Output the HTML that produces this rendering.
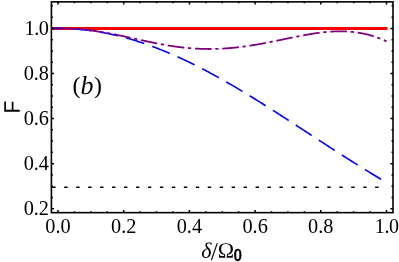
<!DOCTYPE html>
<html><head><meta charset="utf-8"><title>plot</title>
<style>html,body{margin:0;padding:0;background:#fff}svg{display:block}</style>
</head><body>
<svg width="399" height="262" viewBox="0 0 399 262">
<rect width="399" height="262" fill="#fff"/>
<path d="M51.40,28.50 H387.50" stroke="#ff0000" stroke-width="2.8" fill="none"/>
<path d="M51.40,28.49 L52.24,28.47 L53.08,28.45 L53.91,28.43 L54.75,28.42 L55.59,28.41 L56.43,28.41 L57.26,28.40 L58.10,28.40 L58.94,28.40 L59.78,28.41 L60.62,28.41 L61.45,28.42 L62.29,28.44 L63.13,28.45 L63.97,28.47 L64.80,28.50 L65.64,28.52 L66.48,28.55 L67.32,28.58 L68.16,28.62 L68.99,28.65 L69.83,28.69 L70.67,28.74 L71.51,28.78 L72.34,28.83 L73.18,28.88 L74.02,28.94 L74.86,28.99 L75.69,29.05 L76.53,29.12 L77.37,29.18 L78.21,29.25 L79.05,29.32 L79.88,29.40 L80.72,29.48 L81.56,29.56 L82.40,29.64 L83.23,29.73 L84.07,29.82 L84.91,29.91 L85.75,30.00 L86.59,30.10 L87.42,30.20 L88.26,30.31 L89.10,30.41 L89.94,30.52 L90.77,30.64 L91.61,30.75 L92.45,30.87 L93.29,30.99 L94.13,31.11 L94.96,31.24 L95.80,31.37 L96.64,31.50 L97.48,31.64 L98.31,31.78 L99.15,31.92 L99.99,32.06 L100.83,32.21 L101.66,32.36 L102.50,32.51 L103.34,32.66 L104.18,32.82 L105.02,32.98 L105.85,33.14 L106.69,33.31 L107.53,33.48 L108.37,33.65 L109.20,33.83 L110.04,34.00 L110.88,34.18 L111.72,34.37 L112.56,34.55 L113.39,34.74 L114.23,34.93 L115.07,35.12 L115.91,35.32 L116.74,35.52 L117.58,35.72 L118.42,35.93 L119.26,36.13 L120.10,36.34 L120.93,36.56 L121.77,36.77 L122.61,36.99 L123.45,37.21 L124.28,37.44 L125.12,37.66 L125.96,37.89 L126.80,38.12 L127.64,38.36 L128.47,38.59 L129.31,38.83 L130.15,39.07 L130.99,39.32 L131.82,39.57 L132.66,39.82 L133.50,40.07 L134.34,40.32 L135.18,40.58 L136.01,40.84 L136.85,41.10 L137.69,41.37 L138.53,41.64 L139.36,41.91 L140.20,42.18 L141.04,42.45 L141.88,42.73 L142.71,43.01 L143.55,43.30 L144.39,43.58 L145.23,43.87 L146.07,44.16 L146.90,44.45 L147.74,44.75 L148.58,45.05 L149.42,45.35 L150.25,45.65 L151.09,45.95 L151.93,46.26 L152.77,46.57 L153.61,46.88 L154.44,47.20 L155.28,47.51 L156.12,47.83 L156.96,48.16 L157.79,48.48 L158.63,48.81 L159.47,49.13 L160.31,49.47 L161.15,49.80 L161.98,50.13 L162.82,50.47 L163.66,50.81 L164.50,51.15 L165.33,51.50 L166.17,51.85 L167.01,52.20 L167.85,52.55 L168.69,52.90 L169.52,53.26 L170.36,53.61 L171.20,53.97 L172.04,54.34 L172.87,54.70 L173.71,55.07 L174.55,55.44 L175.39,55.81 L176.22,56.18 L177.06,56.56 L177.90,56.93 L178.74,57.31 L179.58,57.70 L180.41,58.08 L181.25,58.46 L182.09,58.85 L182.93,59.24 L183.76,59.63 L184.60,60.03 L185.44,60.42 L186.28,60.82 L187.12,61.22 L187.95,61.62 L188.79,62.03 L189.63,62.43 L190.47,62.84 L191.30,63.25 L192.14,63.66 L192.98,64.07 L193.82,64.49 L194.66,64.91 L195.49,65.32 L196.33,65.75 L197.17,66.17 L198.01,66.59 L198.84,67.02 L199.68,67.45 L200.52,67.88 L201.36,68.31 L202.20,68.74 L203.03,69.18 L203.87,69.61 L204.71,70.05 L205.55,70.49 L206.38,70.93 L207.22,71.38 L208.06,71.82 L208.90,72.27 L209.73,72.72 L210.57,73.17 L211.41,73.62 L212.25,74.07 L213.09,74.53 L213.92,74.99 L214.76,75.44 L215.60,75.90 L216.44,76.37 L217.27,76.83 L218.11,77.29 L218.95,77.76 L219.79,78.23 L220.63,78.69 L221.46,79.16 L222.30,79.64 L223.14,80.11 L223.98,80.58 L224.81,81.06 L225.65,81.54 L226.49,82.02 L227.33,82.50 L228.17,82.98 L229.00,83.46 L229.84,83.95 L230.68,84.43 L231.52,84.92 L232.35,85.41 L233.19,85.90 L234.03,86.39 L234.87,86.88 L235.71,87.37 L236.54,87.87 L237.38,88.36 L238.22,88.86 L239.06,89.36 L239.89,89.86 L240.73,90.36 L241.57,90.86 L242.41,91.36 L243.24,91.87 L244.08,92.37 L244.92,92.88 L245.76,93.38 L246.60,93.89 L247.43,94.40 L248.27,94.91 L249.11,95.42 L249.95,95.93 L250.78,96.45 L251.62,96.96 L252.46,97.48 L253.30,97.99 L254.14,98.51 L254.97,99.03 L255.81,99.55 L256.65,100.06 L257.49,100.59 L258.32,101.11 L259.16,101.63 L260.00,102.15 L260.84,102.68 L261.68,103.20 L262.51,103.73 L263.35,104.25 L264.19,104.78 L265.03,105.31 L265.86,105.84 L266.70,106.36 L267.54,106.89 L268.38,107.43 L269.22,107.96 L270.05,108.49 L270.89,109.02 L271.73,109.55 L272.57,110.09 L273.40,110.62 L274.24,111.16 L275.08,111.69 L275.92,112.23 L276.75,112.77 L277.59,113.30 L278.43,113.84 L279.27,114.38 L280.11,114.92 L280.94,115.46 L281.78,116.00 L282.62,116.54 L283.46,117.08 L284.29,117.62 L285.13,118.16 L285.97,118.70 L286.81,119.24 L287.65,119.78 L288.48,120.33 L289.32,120.87 L290.16,121.41 L291.00,121.96 L291.83,122.50 L292.67,123.05 L293.51,123.59 L294.35,124.14 L295.19,124.68 L296.02,125.23 L296.86,125.77 L297.70,126.32 L298.54,126.86 L299.37,127.41 L300.21,127.95 L301.05,128.50 L301.89,129.05 L302.73,129.59 L303.56,130.14 L304.40,130.69 L305.24,131.23 L306.08,131.78 L306.91,132.33 L307.75,132.87 L308.59,133.42 L309.43,133.97 L310.26,134.51 L311.10,135.06 L311.94,135.61 L312.78,136.15 L313.62,136.70 L314.45,137.25 L315.29,137.79 L316.13,138.34 L316.97,138.88 L317.80,139.43 L318.64,139.98 L319.48,140.52 L320.32,141.07 L321.16,141.61 L321.99,142.16 L322.83,142.70 L323.67,143.25 L324.51,143.79 L325.34,144.33 L326.18,144.88 L327.02,145.42 L327.86,145.96 L328.70,146.51 L329.53,147.05 L330.37,147.59 L331.21,148.13 L332.05,148.67 L332.88,149.22 L333.72,149.76 L334.56,150.30 L335.40,150.84 L336.24,151.38 L337.07,151.91 L337.91,152.45 L338.75,152.99 L339.59,153.53 L340.42,154.06 L341.26,154.60 L342.10,155.14 L342.94,155.67 L343.77,156.21 L344.61,156.74 L345.45,157.27 L346.29,157.81 L347.13,158.34 L347.96,158.87 L348.80,159.40 L349.64,159.93 L350.48,160.46 L351.31,160.99 L352.15,161.52 L352.99,162.05 L353.83,162.57 L354.67,163.10 L355.50,163.63 L356.34,164.15 L357.18,164.67 L358.02,165.20 L358.85,165.72 L359.69,166.24 L360.53,166.76 L361.37,167.28 L362.21,167.80 L363.04,168.32 L363.88,168.84 L364.72,169.35 L365.56,169.87 L366.39,170.38 L367.23,170.90 L368.07,171.41 L368.91,171.92 L369.75,172.44 L370.58,172.95 L371.42,173.45 L372.26,173.96 L373.10,174.47 L373.93,174.98 L374.77,175.48 L375.61,175.99 L376.45,176.49 L377.28,176.99 L378.12,177.49 L378.96,177.99 L379.80,178.49 L380.64,178.99 L381.47,179.49 L382.31,179.98 L383.15,180.48 L383.99,180.97 L384.82,181.46 L385.66,181.96 L386.50,182.45" stroke="#0000ff" stroke-width="1.6" fill="none" stroke-dasharray="18.9 8.46" stroke-dashoffset="6.37"/>
<path d="M51.40,28.51 L52.24,28.50 L53.08,28.49 L53.91,28.49 L54.75,28.49 L55.59,28.49 L56.43,28.50 L57.26,28.51 L58.10,28.52 L58.94,28.51 L59.78,28.50 L60.62,28.49 L61.45,28.49 L62.29,28.49 L63.13,28.49 L63.97,28.50 L64.80,28.51 L65.64,28.52 L66.48,28.54 L67.32,28.56 L68.16,28.59 L68.99,28.61 L69.83,28.65 L70.67,28.68 L71.51,28.72 L72.34,28.76 L73.18,28.80 L74.02,28.85 L74.86,28.90 L75.69,28.95 L76.53,29.01 L77.37,29.07 L78.21,29.13 L79.05,29.20 L79.88,29.27 L80.72,29.34 L81.56,29.42 L82.40,29.49 L83.23,29.57 L84.07,29.66 L84.91,29.75 L85.75,29.83 L86.59,29.93 L87.42,30.02 L88.26,30.12 L89.10,30.22 L89.94,30.32 L90.77,30.43 L91.61,30.54 L92.45,30.65 L93.29,30.77 L94.13,30.88 L94.96,31.00 L95.80,31.12 L96.64,31.25 L97.48,31.37 L98.31,31.50 L99.15,31.63 L99.99,31.77 L100.83,31.90 L101.66,32.04 L102.50,32.18 L103.34,32.32 L104.18,32.46 L105.02,32.61 L105.85,32.76 L106.69,32.91 L107.53,33.06 L108.37,33.21 L109.20,33.37 L110.04,33.53 L110.88,33.69 L111.72,33.85 L112.56,34.01 L113.39,34.17 L114.23,34.34 L115.07,34.50 L115.91,34.67 L116.74,34.84 L117.58,35.01 L118.42,35.18 L119.26,35.36 L120.10,35.53 L120.93,35.71 L121.77,35.88 L122.61,36.06 L123.45,36.24 L124.28,36.42 L125.12,36.60 L125.96,36.78 L126.80,36.96 L127.64,37.14 L128.47,37.32 L129.31,37.51 L130.15,37.69 L130.99,37.88 L131.82,38.06 L132.66,38.24 L133.50,38.43 L134.34,38.61 L135.18,38.80 L136.01,38.98 L136.85,39.17 L137.69,39.35 L138.53,39.54 L139.36,39.72 L140.20,39.91 L141.04,40.09 L141.88,40.27 L142.71,40.46 L143.55,40.64 L144.39,40.82 L145.23,41.00 L146.07,41.18 L146.90,41.36 L147.74,41.54 L148.58,41.71 L149.42,41.89 L150.25,42.06 L151.09,42.24 L151.93,42.41 L152.77,42.58 L153.61,42.75 L154.44,42.92 L155.28,43.09 L156.12,43.25 L156.96,43.42 L157.79,43.58 L158.63,43.74 L159.47,43.90 L160.31,44.06 L161.15,44.21 L161.98,44.36 L162.82,44.52 L163.66,44.67 L164.50,44.81 L165.33,44.96 L166.17,45.10 L167.01,45.25 L167.85,45.38 L168.69,45.52 L169.52,45.66 L170.36,45.79 L171.20,45.92 L172.04,46.05 L172.87,46.17 L173.71,46.30 L174.55,46.42 L175.39,46.54 L176.22,46.65 L177.06,46.77 L177.90,46.88 L178.74,46.99 L179.58,47.09 L180.41,47.19 L181.25,47.29 L182.09,47.39 L182.93,47.49 L183.76,47.58 L184.60,47.67 L185.44,47.76 L186.28,47.84 L187.12,47.92 L187.95,48.00 L188.79,48.07 L189.63,48.15 L190.47,48.21 L191.30,48.28 L192.14,48.34 L192.98,48.41 L193.82,48.46 L194.66,48.52 L195.49,48.57 L196.33,48.62 L197.17,48.66 L198.01,48.71 L198.84,48.75 L199.68,48.78 L200.52,48.82 L201.36,48.85 L202.20,48.87 L203.03,48.90 L203.87,48.92 L204.71,48.94 L205.55,48.95 L206.38,48.97 L207.22,48.97 L208.06,48.98 L208.90,48.98 L209.73,48.98 L210.57,48.98 L211.41,48.97 L212.25,48.97 L213.09,48.95 L213.92,48.94 L214.76,48.92 L215.60,48.90 L216.44,48.88 L217.27,48.85 L218.11,48.82 L218.95,48.79 L219.79,48.75 L220.63,48.71 L221.46,48.67 L222.30,48.62 L223.14,48.58 L223.98,48.53 L224.81,48.47 L225.65,48.42 L226.49,48.36 L227.33,48.30 L228.17,48.23 L229.00,48.17 L229.84,48.10 L230.68,48.02 L231.52,47.95 L232.35,47.87 L233.19,47.79 L234.03,47.71 L234.87,47.62 L235.71,47.53 L236.54,47.44 L237.38,47.35 L238.22,47.25 L239.06,47.15 L239.89,47.05 L240.73,46.95 L241.57,46.84 L242.41,46.73 L243.24,46.62 L244.08,46.51 L244.92,46.39 L245.76,46.28 L246.60,46.16 L247.43,46.04 L248.27,45.91 L249.11,45.79 L249.95,45.66 L250.78,45.53 L251.62,45.40 L252.46,45.26 L253.30,45.13 L254.14,44.99 L254.97,44.85 L255.81,44.71 L256.65,44.56 L257.49,44.42 L258.32,44.27 L259.16,44.12 L260.00,43.97 L260.84,43.82 L261.68,43.67 L262.51,43.52 L263.35,43.36 L264.19,43.20 L265.03,43.04 L265.86,42.88 L266.70,42.72 L267.54,42.56 L268.38,42.40 L269.22,42.23 L270.05,42.07 L270.89,41.90 L271.73,41.74 L272.57,41.57 L273.40,41.40 L274.24,41.23 L275.08,41.06 L275.92,40.89 L276.75,40.72 L277.59,40.55 L278.43,40.37 L279.27,40.20 L280.11,40.03 L280.94,39.86 L281.78,39.68 L282.62,39.51 L283.46,39.33 L284.29,39.16 L285.13,38.99 L285.97,38.81 L286.81,38.64 L287.65,38.47 L288.48,38.29 L289.32,38.12 L290.16,37.95 L291.00,37.78 L291.83,37.61 L292.67,37.44 L293.51,37.27 L294.35,37.10 L295.19,36.93 L296.02,36.76 L296.86,36.59 L297.70,36.43 L298.54,36.27 L299.37,36.10 L300.21,35.94 L301.05,35.78 L301.89,35.62 L302.73,35.46 L303.56,35.31 L304.40,35.15 L305.24,35.00 L306.08,34.85 L306.91,34.70 L307.75,34.56 L308.59,34.41 L309.43,34.27 L310.26,34.13 L311.10,33.99 L311.94,33.86 L312.78,33.72 L313.62,33.59 L314.45,33.47 L315.29,33.34 L316.13,33.22 L316.97,33.10 L317.80,32.98 L318.64,32.87 L319.48,32.76 L320.32,32.66 L321.16,32.55 L321.99,32.45 L322.83,32.36 L323.67,32.26 L324.51,32.18 L325.34,32.09 L326.18,32.01 L327.02,31.93 L327.86,31.86 L328.70,31.79 L329.53,31.73 L330.37,31.67 L331.21,31.61 L332.05,31.56 L332.88,31.52 L333.72,31.47 L334.56,31.44 L335.40,31.40 L336.24,31.38 L337.07,31.36 L337.91,31.34 L338.75,31.33 L339.59,31.32 L340.42,31.32 L341.26,31.32 L342.10,31.33 L342.94,31.35 L343.77,31.37 L344.61,31.39 L345.45,31.43 L346.29,31.46 L347.13,31.51 L347.96,31.56 L348.80,31.61 L349.64,31.67 L350.48,31.74 L351.31,31.82 L352.15,31.90 L352.99,31.98 L353.83,32.08 L354.67,32.18 L355.50,32.28 L356.34,32.40 L357.18,32.52 L358.02,32.64 L358.85,32.77 L359.69,32.91 L360.53,33.06 L361.37,33.22 L362.21,33.38 L363.04,33.54 L363.88,33.72 L364.72,33.90 L365.56,34.09 L366.39,34.29 L367.23,34.49 L368.07,34.70 L368.91,34.92 L369.75,35.15 L370.58,35.38 L371.42,35.62 L372.26,35.87 L373.10,36.13 L373.93,36.40 L374.77,36.67 L375.61,36.95 L376.45,37.24 L377.28,37.53 L378.12,37.84 L378.96,38.15 L379.80,38.47 L380.64,38.80 L381.47,39.13 L382.31,39.48 L383.15,39.83 L383.99,40.19 L384.82,40.56 L385.66,40.94 L386.50,41.33" stroke="#800080" stroke-width="1.8" fill="none" stroke-dasharray="16.6 3.7 3.3 3.76" stroke-dashoffset="18.86"/>
<path d="M52.25,187.3 H387" stroke="#000" stroke-width="1.6" fill="none" stroke-dasharray="3.4 8.56"/>
<path d="M58.00,212.65 v-2.60 M58.00,1.85 v2.60 M74.42,212.65 v-1.50 M74.42,1.85 v1.50 M90.85,212.65 v-1.50 M90.85,1.85 v1.50 M107.28,212.65 v-1.50 M107.28,1.85 v1.50 M123.70,212.65 v-2.60 M123.70,1.85 v2.60 M140.12,212.65 v-1.50 M140.12,1.85 v1.50 M156.55,212.65 v-1.50 M156.55,1.85 v1.50 M172.98,212.65 v-1.50 M172.98,1.85 v1.50 M189.40,212.65 v-2.60 M189.40,1.85 v2.60 M205.83,212.65 v-1.50 M205.83,1.85 v1.50 M222.25,212.65 v-1.50 M222.25,1.85 v1.50 M238.68,212.65 v-1.50 M238.68,1.85 v1.50 M255.10,212.65 v-2.60 M255.10,1.85 v2.60 M271.52,212.65 v-1.50 M271.52,1.85 v1.50 M287.95,212.65 v-1.50 M287.95,1.85 v1.50 M304.38,212.65 v-1.50 M304.38,1.85 v1.50 M320.80,212.65 v-2.60 M320.80,1.85 v2.60 M337.23,212.65 v-1.50 M337.23,1.85 v1.50 M353.65,212.65 v-1.50 M353.65,1.85 v1.50 M370.08,212.65 v-1.50 M370.08,1.85 v1.50 M386.50,212.65 v-2.60 M386.50,1.85 v2.60 M51.40,208.72 h2.60 M393.00,208.72 h-2.60 M51.40,197.45 h1.50 M393.00,197.45 h-1.50 M51.40,186.18 h1.50 M393.00,186.18 h-1.50 M51.40,174.91 h1.50 M393.00,174.91 h-1.50 M51.40,163.64 h2.60 M393.00,163.64 h-2.60 M51.40,152.37 h1.50 M393.00,152.37 h-1.50 M51.40,141.10 h1.50 M393.00,141.10 h-1.50 M51.40,129.83 h1.50 M393.00,129.83 h-1.50 M51.40,118.56 h2.60 M393.00,118.56 h-2.60 M51.40,107.29 h1.50 M393.00,107.29 h-1.50 M51.40,96.02 h1.50 M393.00,96.02 h-1.50 M51.40,84.75 h1.50 M393.00,84.75 h-1.50 M51.40,73.48 h2.60 M393.00,73.48 h-2.60 M51.40,62.21 h1.50 M393.00,62.21 h-1.50 M51.40,50.94 h1.50 M393.00,50.94 h-1.50 M51.40,39.67 h1.50 M393.00,39.67 h-1.50 M51.40,28.40 h2.60 M393.00,28.40 h-2.60 M51.40,17.13 h1.50 M393.00,17.13 h-1.50 M51.40,5.86 h1.50 M393.00,5.86 h-1.50" stroke="#000" stroke-width="1.50" fill="none"/>
<rect x="51.40" y="1.85" width="341.60" height="210.80" fill="none" stroke="#000" stroke-width="1.6"/>
<g font-family="'Liberation Serif', 'Times New Roman', serif" font-size="20px" fill="#000">
<text transform="translate(49.00,215.32) rotate(0.02) scale(1.015,1)" text-anchor="end">0.2</text>
<text transform="translate(49.00,170.24) rotate(0.02) scale(1.015,1)" text-anchor="end">0.4</text>
<text transform="translate(49.00,125.16) rotate(0.02) scale(1.015,1)" text-anchor="end">0.6</text>
<text transform="translate(49.00,80.08) rotate(0.02) scale(1.015,1)" text-anchor="end">0.8</text>
<text transform="translate(48.45,35.00) rotate(0.02) scale(1.015,1)" text-anchor="end" letter-spacing="-0.5">1.0</text>
<text transform="translate(58.00,233.2) scale(1.015,1)" text-anchor="middle">0.0</text>
<text transform="translate(123.70,233.2) scale(1.015,1)" text-anchor="middle">0.2</text>
<text transform="translate(189.40,233.2) scale(1.015,1)" text-anchor="middle">0.4</text>
<text transform="translate(255.10,233.2) scale(1.015,1)" text-anchor="middle">0.6</text>
<text transform="translate(320.80,233.2) scale(1.015,1)" text-anchor="middle">0.8</text>
<text transform="translate(386.70,233.2) scale(1.000,1)" text-anchor="middle" letter-spacing="-0.4">1.0</text>
</g>
<text transform="rotate(0.03)" font-family="'Liberation Serif', serif" fill="#000"><tspan x="72.6" y="93.26" font-size="23.9px">(</tspan><tspan x="80.45" y="93.96" font-size="26px" font-style="italic">b</tspan><tspan x="94.15" y="93.25" font-size="23.9px">)</tspan></text>
<text transform="translate(19.8,107.0) rotate(-89.95) scale(0.93,1)" text-anchor="middle" font-family="'Liberation Sans', sans-serif" font-size="22.6px">F</text>
<text transform="rotate(0.03)" font-family="'Liberation Serif', serif" font-size="22px" fill="#000"><tspan x="201.33" y="257.6" font-style="italic">δ</tspan><tspan x="210.83" y="260.0" font-size="25.5px">/</tspan><tspan x="217.93" y="257.7">Ω</tspan><tspan x="233.53" y="260.78" font-family="'Liberation Sans', sans-serif" font-weight="bold" font-size="17.6px" textLength="8.6" lengthAdjust="spacingAndGlyphs">0</tspan></text>
</svg>
</body></html>
